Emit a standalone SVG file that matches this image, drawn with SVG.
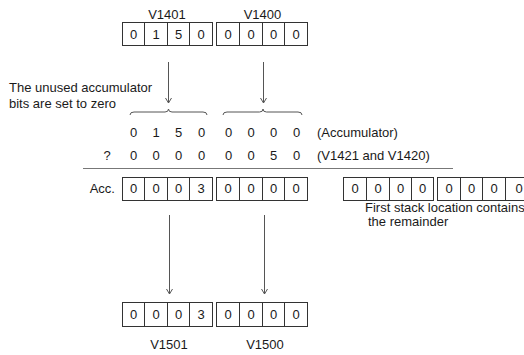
<svg xmlns="http://www.w3.org/2000/svg" width="524" height="355" viewBox="0 0 524 355">
<defs>
<style>
text{font-family:"Liberation Sans",Arial,sans-serif;font-size:13px;fill:#1a1a1a}
.c{text-anchor:middle}
.r{text-anchor:end}
.box{fill:#fff;stroke:#333;stroke-width:1}
.div{stroke:#333;stroke-width:1}
.conn{stroke:#555;stroke-width:1;fill:none}
</style>
<marker id="ah" viewBox="0 0 10 10" refX="9" refY="5" markerWidth="10" markerHeight="10" markerUnits="userSpaceOnUse" orient="auto">
<path d="M4,2 L9,5 L4,8" fill="none" stroke="#555" stroke-width="1"/>
</marker>
</defs>
<rect width="524" height="355" fill="#fff"/>

<g id="v1401">
<text class="c" x="167" y="19">V1401</text>
<rect class="box" x="122.5" y="22.5" width="90" height="23"/>
<path class="div" d="M144.5,22.5V45.5M167.5,22.5V45.5M189.5,22.5V45.5"/>
<text class="c" x="133.5" y="38.5">0</text><text class="c" x="156" y="38.5">1</text><text class="c" x="178.5" y="38.5">5</text><text class="c" x="201" y="38.5">0</text>
</g>
<g id="v1400">
<text class="c" x="262.5" y="19">V1400</text>
<rect class="box" x="216.5" y="22.5" width="91" height="23"/>
<path class="div" d="M239.5,22.5V45.5M262.5,22.5V45.5M284.5,22.5V45.5"/>
<text class="c" x="228" y="38.5">0</text><text class="c" x="251" y="38.5">0</text><text class="c" x="273.5" y="38.5">0</text><text class="c" x="296" y="38.5">0</text>
</g>

<g id="note">
<text x="9" y="92">The unused accumulator</text>
<text x="9" y="108">bits are set to zero</text>
</g>

<g id="braces" class="conn">
<path d="M130,115 Q130,112 134,112 L165,112 Q168.5,112 168.5,109 Q168.5,112 172,112 L203,112 Q207,112 207,115"/>
<path d="M223,115 Q223,112 227,112 L259.5,112 Q263,112 263,109 Q263,112 266.5,112 L298,112 Q302,112 302,115"/>
</g>

<g id="accumulator-row">
<text class="c" x="133.5" y="137">0</text><text class="c" x="156" y="137">1</text><text class="c" x="178.5" y="137">5</text><text class="c" x="201.5" y="137">0</text>
<text class="c" x="228.5" y="137">0</text><text class="c" x="251" y="137">0</text><text class="c" x="273.5" y="137">0</text><text class="c" x="296.5" y="137">0</text>
<text x="317" y="137">(Accumulator)</text>
</g>
<g id="divisor-row">
<text class="c" x="107" y="160">?</text>
<text class="c" x="133.5" y="160">0</text><text class="c" x="156" y="160">0</text><text class="c" x="178.5" y="160">0</text><text class="c" x="201.5" y="160">0</text>
<text class="c" x="228.5" y="160">0</text><text class="c" x="251" y="160">0</text><text class="c" x="273.5" y="160">5</text><text class="c" x="296.5" y="160">0</text>
<text x="317" y="160">(V1421 and V1420)</text>
</g>

<g id="acc">
<text class="r" x="115" y="193">Acc.</text>
<rect class="box" x="122.5" y="177.5" width="90" height="23"/>
<path class="div" d="M144.5,177.5V200.5M167.5,177.5V200.5M189.5,177.5V200.5"/>
<text class="c" x="133.5" y="193">0</text><text class="c" x="156" y="193">0</text><text class="c" x="178.5" y="193">0</text><text class="c" x="201" y="193">3</text>
<rect class="box" x="216.5" y="177.5" width="91" height="23"/>
<path class="div" d="M239.5,177.5V200.5M262.5,177.5V200.5M284.5,177.5V200.5"/>
<text class="c" x="228" y="193">0</text><text class="c" x="251" y="193">0</text><text class="c" x="273.5" y="193">0</text><text class="c" x="296" y="193">0</text>
</g>

<g id="stack">
<rect class="box" x="343.5" y="177.5" width="90" height="23"/>
<path class="div" d="M366.5,177.5V200.5M389.5,177.5V200.5M411.5,177.5V200.5"/>
<text class="c" x="355" y="193">0</text><text class="c" x="378" y="193">0</text><text class="c" x="400.5" y="193">0</text><text class="c" x="422.5" y="193">0</text>
<rect class="box" x="437.5" y="177.5" width="92" height="23"/>
<path class="div" d="M460.5,177.5V200.5M482.5,177.5V200.5M505.5,177.5V200.5"/>
<text class="c" x="449" y="193">0</text><text class="c" x="471.5" y="193">0</text><text class="c" x="494" y="193">0</text><text class="c" x="519" y="193">0</text>
<text x="365" y="212">First stack location contains</text>
<text x="368" y="226"> the remainder</text>
</g>

<g id="v1501">
<rect class="box" x="122.5" y="302.5" width="90" height="24"/>
<path class="div" d="M144.5,302.5V326.5M167.5,302.5V326.5M189.5,302.5V326.5"/>
<text class="c" x="133.5" y="319">0</text><text class="c" x="156" y="319">0</text><text class="c" x="178.5" y="319">0</text><text class="c" x="201" y="319">3</text>
<text class="c" x="169" y="349">V1501</text>
</g>
<g id="v1500">
<rect class="box" x="216.5" y="302.5" width="91" height="24"/>
<path class="div" d="M239.5,302.5V326.5M262.5,302.5V326.5M284.5,302.5V326.5"/>
<text class="c" x="228" y="319">0</text><text class="c" x="251" y="319">0</text><text class="c" x="273.5" y="319">0</text><text class="c" x="296" y="319">0</text>
<text class="c" x="265" y="349">V1500</text>
</g>

<g id="connectors" class="conn">
<path d="M168.5,62V103" marker-end="url(#ah)"/>
<path d="M263.5,62V103" marker-end="url(#ah)"/>
<path d="M83,168.5H453" stroke="#777" stroke-width="1.2"/>
<path d="M169.5,215V294" marker-end="url(#ah)"/>
<path d="M264.5,215V294" marker-end="url(#ah)"/>
</g>
</svg>
